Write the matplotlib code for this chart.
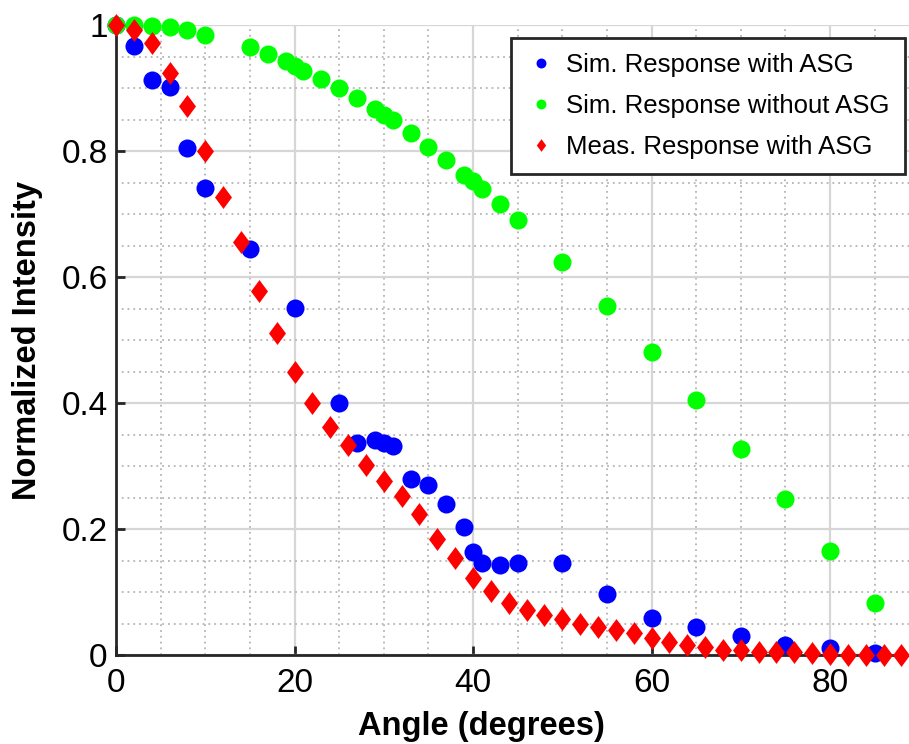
import numpy as np
import matplotlib
matplotlib.use("Agg")
import matplotlib.pyplot as plt
from matplotlib.ticker import MultipleLocator

plt.rcParams["font.family"] = ["Liberation Sans", "DejaVu Sans"]

# simulated response with anti-scatter grid
sim_asg_x = [0, 2, 4, 6, 8, 10, 15, 20, 25, 27, 29, 30, 31, 33, 35, 37, 39, 40, 41,
             43, 45, 50, 55, 60, 65, 70, 75, 80, 85]
sim_asg_y = [1.0, 0.967, 0.913, 0.902, 0.805, 0.741, 0.645, 0.551, 0.400, 0.337, 0.341,
             0.336, 0.332, 0.279, 0.270, 0.240, 0.203, 0.163, 0.146, 0.143, 0.146, 0.146,
             0.097, 0.059, 0.044, 0.030, 0.016, 0.011, 0.003]

# simulated response without anti-scatter grid
sim_noasg_x = [0, 2, 4, 6, 8, 10, 15, 17, 19, 20, 21, 23, 25, 27, 29, 30, 31, 33, 35,
               37, 39, 40, 41, 43, 45, 50, 55, 60, 65, 70, 75, 80, 85]
sim_noasg_y = [1.0, 1.0, 0.998, 0.997, 0.992, 0.984, 0.965, 0.954, 0.943, 0.935, 0.927,
               0.914, 0.900, 0.884, 0.867, 0.857, 0.849, 0.828, 0.806, 0.786, 0.762,
               0.752, 0.739, 0.716, 0.690, 0.624, 0.554, 0.481, 0.405, 0.327, 0.248,
               0.165, 0.083]

# measured response with anti-scatter grid
meas_x = [0, 2, 4, 6, 8, 10, 12, 14, 16, 18, 20, 22, 24, 26, 28, 30, 32, 34, 36, 38,
          40, 42, 44, 46, 48, 50, 52, 54, 56, 58, 60, 62, 64, 66, 68, 70, 72, 74, 76,
          78, 80, 82, 84, 86, 88]
meas_y = [1.0, 0.992, 0.971, 0.924, 0.871, 0.800, 0.727, 0.656, 0.578, 0.511, 0.449,
          0.400, 0.362, 0.333, 0.302, 0.276, 0.252, 0.224, 0.184, 0.154, 0.122, 0.102,
          0.083, 0.071, 0.063, 0.057, 0.049, 0.045, 0.039, 0.035, 0.027, 0.021, 0.016,
          0.013, 0.008, 0.008, 0.005, 0.004, 0.004, 0.003, 0.002, 0.0, 0.0, 0.0, 0.0]

W, H = 909, 744
fig = plt.figure(figsize=(W / 100, H / 100), dpi=100)
ax = fig.add_axes([116 / W, 1 - 655 / H, (W - 116) / W, (655 - 25) / H])

diamond = [(0, 1), (0.74, 0), (0, -1), (-0.74, 0), (0, 1)]

ax.plot(sim_asg_x, sim_asg_y, "o", color=(0, 0, 1), ms=13, mew=0,
        label="Sim. Response with ASG", clip_on=False, zorder=3)
ax.plot(sim_noasg_x, sim_noasg_y, "o", color=(0, 1, 0), ms=13, mew=0,
        label="Sim. Response without ASG", clip_on=False, zorder=3)
ax.plot(meas_x, meas_y, ls="none", marker=diamond, color=(1, 0, 0), ms=16.5, mew=0,
        label="Meas. Response with ASG", clip_on=False, zorder=4)

ax.set_xlim(0, (W - 116) / 8.925)
ax.set_ylim(0, 1)
ax.xaxis.set_major_locator(MultipleLocator(20))
ax.xaxis.set_minor_locator(MultipleLocator(5))
ax.yaxis.set_major_locator(MultipleLocator(0.2))
ax.yaxis.set_minor_locator(MultipleLocator(0.05))
ax.set_yticks([0, 0.2, 0.4, 0.6, 0.8, 1.0])
ax.set_yticklabels(["0", "0.2", "0.4", "0.6", "0.8", "1"])

ax.grid(which="major", color="#d6d6d6", lw=1.6, ls="-")
ax.grid(which="minor", color="#b4b4b4", lw=1.3, ls=(0, (1, 2.2)))
ax.set_axisbelow(True)

for s in ["top", "right"]:
    ax.spines[s].set_visible(False)
for s in ["left", "bottom"]:
    ax.spines[s].set_color("#262626")
    ax.spines[s].set_linewidth(2)

ax.tick_params(which="major", direction="in", length=6.5, width=2, color="#262626",
               labelsize=24)
ax.tick_params(axis="x", which="major", pad=9)
ax.tick_params(axis="y", which="major", pad=6)
ax.tick_params(which="minor", length=0)

ax.set_xlabel("Angle (degrees)", fontsize=23.5, fontweight="bold")
ax.set_ylabel("Normalized Intensity", fontsize=23.5, fontweight="bold")
ax.xaxis.set_label_coords((481 - 116) / (W - 116), -(727 - 655) / 630)
ax.yaxis.set_label_coords(-(116 - 28) / (W - 116), 0.5)
ax.xaxis.label.set_va("center")
ax.yaxis.label.set_va("center")

leg = ax.legend(loc="upper right", bbox_to_anchor=(905 / W, 1 - 38 / H),
                bbox_transform=fig.transFigure, fontsize=18.5, markerscale=0.55,
                numpoints=1, handlelength=1.1, handletextpad=0.43, labelspacing=0.65,
                borderpad=0.6, fancybox=False, framealpha=1, edgecolor="#262626",
                borderaxespad=0)
leg.get_frame().set_linewidth(2)

fig.savefig("out.png", dpi=100)
